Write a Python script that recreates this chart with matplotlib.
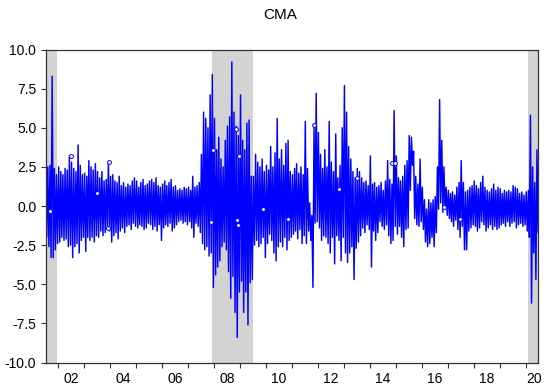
import numpy as np
import pandas as pd
import matplotlib
matplotlib.use('Agg')
import matplotlib.pyplot as plt
import matplotlib.dates as mdates

# monthly high / low of the daily CMA series, Jul 2001 .. Jun 2020
first_month = '2001-07'
month_hi = [
    3.3, 2.5, 2.6, 8.3, 2.4, 2.0,                                   # 2001 Jul-Dec
    2.5, 2.2, 2.0, 2.4, 2.3, 3.2, 2.8, 2.4, 2.2, 3.9, 2.6, 2.0,     # 2002
    2.1, 1.9, 2.9, 2.5, 2.3, 2.7, 2.2, 1.8, 2.2, 1.6, 1.7, 2.8,     # 2003
    1.9, 2.0, 1.6, 1.5, 1.9, 1.3, 1.5, 1.2, 1.4, 1.3, 1.6, 1.8,     # 2004
    1.6, 1.2, 1.5, 1.7, 1.3, 1.4, 1.6, 1.7, 1.5, 1.8, 1.3, 1.2,     # 2005
    1.4, 1.6, 1.3, 1.5, 1.7, 1.2, 1.3, 1.0, 1.1, 1.0, 1.2, 1.1,     # 2006
    1.2, 1.0, 1.9, 1.2, 1.3, 1.5, 3.3, 6.0, 5.6, 5.0, 7.1, 8.4,     # 2007
    5.6, 3.6, 4.4, 3.0, 2.5, 4.2, 5.1, 5.7, 9.2, 6.0, 5.1, 4.5,     # 2008
    7.1, 4.2, 3.6, 5.3, 5.5, 1.9, 1.9, 3.3, 2.8, 2.5, 3.0, 2.2,     # 2009
    2.6, 2.3, 3.8, 2.5, 3.4, 5.6, 3.0, 3.6, 2.6, 4.0, 4.2, 2.2,     # 2010
    2.0, 2.4, 2.7, 2.1, 2.5, 2.0, 5.4, 2.4, 0.2, -0.6, 5.2, 7.2,    # 2011
    4.7, 3.3, 2.4, 3.6, 2.5, 5.4, 2.8, 2.2, 4.6, 1.8, 2.6, 5.0,     # 2012
    7.7, 6.0, 3.8, 3.0, 2.2, 1.8, 2.4, 2.2, 1.8, 1.5, 1.6, 1.3,     # 2013
    3.2, 1.4, 1.5, 1.2, 1.3, 1.5, 1.0, 1.6, 2.9, 1.7, 1.4, 6.1,     # 2014
    3.2, 1.8, 1.6, 1.9, 2.6, 2.9, 4.5, 4.4, 3.5, 1.9, 1.4, 3.0,     # 2015
    1.2, 0.4, -0.2, 0.4, 0.2, 0.4, 0.6, 2.5, 6.8, 4.2, 2.5, 1.2,    # 2016
    1.0, 0.8, 0.9, 0.7, 1.2, 1.5, 2.9, 1.5, 0.9, 1.0, 1.2, 1.3,     # 2017
    1.6, 1.3, 1.1, 1.5, 1.9, 1.2, 1.0, 0.9, 1.1, 1.4, 1.0, 1.2,     # 2018
    1.1, 0.8, 1.0, 0.9, 1.0, 0.9, 1.3, 1.2, 1.1, 0.8, 0.9, 0.7,     # 2019
    0.9, 1.0, 5.8, 2.5, 1.5, 3.6,                                   # 2020 Jan-Jun
]
month_lo = [
    -2.0, -2.6, -3.3, -3.3, -2.8, -2.4,
    -2.3, -2.0, -2.2, -2.1, -2.6, -2.5, -3.3, -2.6, -2.4, -3.0, -2.2, -2.0,
    -2.9, -2.0, -2.2, -2.0, -2.3, -1.9, -2.0, -1.6, -1.9, -1.7, -1.5, -1.6,
    -2.3, -1.9, -1.7, -2.1, -1.6, -1.4, -1.7, -1.3, -1.2, -1.5, -1.1, -1.3,
    -1.4, -1.2, -1.3, -1.5, -1.4, -1.1, -1.2, -1.5, -1.3, -1.6, -1.2, -2.2,
    -1.4, -1.2, -1.3, -1.1, -1.6, -1.4, -1.2, -1.0, -0.9, -1.1, -1.0, -1.2,
    -1.0, -1.4, -2.0, -1.1, -1.3, -1.7, -2.4, -2.8, -2.6, -3.2, -3.0, -5.2,
    -4.4, -3.9, -3.5, -2.6, -2.3, -2.8, -4.2, -5.9, -4.5, -6.8, -8.4, -5.5,
    -4.8, -6.8, -5.5, -7.6, -4.9, -4.7, -2.5, -2.2, -2.6, -2.4, -2.0, -3.3,
    -2.4, -1.8, -2.2, -3.0, -3.5, -2.6, -2.3, -2.6, -2.0, -2.8, -2.2, -2.0,
    -1.8, -1.6, -2.1, -1.5, -2.4, -1.9, -2.4, -1.6, -2.2, -5.2, -1.1, -1.0,
    -1.4, -2.2, -1.9, -2.0, -2.4, -3.0, -2.0, -3.7, -1.9, -2.2, -3.5, -2.0,
    -3.0, -3.6, -3.0, -2.6, -4.7, -2.7, -2.3, -1.9, -1.4, -1.7, -1.2, -1.5,
    -3.9, -1.6, -2.2, -1.7, -1.0, -1.3, -1.5, -1.2, -1.9, -2.4, -2.2, -1.3,
    -1.8, -1.3, -2.0, -2.6, -1.5, -1.4, 1.0, 2.6, -0.8, -1.2, -1.3, -1.0,
    -1.5, -2.3, -2.6, -2.4, -2.0, -2.6, -1.7, -0.2, 0.2, -0.4, -0.2, -0.6,
    -0.8, -1.0, -1.3, -0.9, -1.5, -2.0, -1.3, -2.8, -2.8, -1.6, -1.4, -1.2,
    -1.3, -1.6, -1.4, -1.0, -1.2, -1.6, -1.4, -1.2, -1.5, -1.3, -1.5, -1.4,
    -1.2, -1.1, -1.3, -1.0, -1.3, -1.1, -1.0, -1.4, -1.2, -1.1, -1.3, -1.2,
    -1.6, -2.0, -6.2, -3.0, -4.7, -1.7,
]

# isolated observations EViews draws as small circles
circle_dates = ['2001-09-10', '2002-07-01', '2003-06-27', '2003-12-08', '2003-12-22',
                '2007-11-20', '2007-12-24', '2008-11-06', '2008-11-16', '2008-12-08',
                '2008-12-23', '2009-11-14', '2010-11-14', '2011-11-13', '2012-10-27',
                '2013-06-28', '2014-11-13', '2014-12-17', '2016-11-09', '2017-06-21']
circle_vals = [-0.3, 3.2, 0.8, -1.4, 2.8,
               -1.0, 3.6, 4.95, -0.9, -1.2,
               3.2, -0.2, -0.8, 5.2, 1.1,
               1.8, 2.77, 2.77, -0.05, -0.8]

# NBER recessions (shaded)
recessions = [('2001-03-01', '2001-12-10'), ('2007-12-01', '2009-07-01'), ('2020-02-01', '2020-07-01')]

label_years = list(range(2002, 2021, 2))

x_start = pd.Timestamp('2001-07-10')
x_end = pd.Timestamp('2020-06-23')

# build the line: one high and one low per month
months = pd.period_range(first_month, periods=len(month_hi), freq='M')
starts = months.to_timestamp(how='start')
ndays = np.asarray(months.days_in_month, dtype=float)
t_hi = starts + pd.to_timedelta(ndays * 0.25, unit='D')
t_lo = starts + pd.to_timedelta(ndays * 0.75, unit='D')
t = np.empty(2 * len(months), dtype='datetime64[ns]')
v = np.empty(2 * len(months))
t[0::2] = t_hi.values
t[1::2] = t_lo.values
v[0::2] = month_hi
v[1::2] = month_lo

plt.rcParams['font.family'] = ['Liberation Sans', 'DejaVu Sans']

fig = plt.figure(figsize=(5.5, 3.91), dpi=100)
ax = fig.add_axes([45.7 / 550, (391 - 362.5) / 391, (538 - 45.7) / 550, 313 / 391])

for a, b in recessions:
    ax.axvspan(pd.Timestamp(a), pd.Timestamp(b), color='#d3d3d3', lw=0, zorder=0)

ax.plot(t, v, color='#0000ff', lw=1.05, zorder=2)
ax.plot(pd.to_datetime(circle_dates), circle_vals, ls='none', marker='o', ms=2.8,
        mfc='white', mec='#0000ff', mew=0.7, zorder=3)

ax.set_xlim(x_start, x_end)
ax.set_ylim(-10, 10)
ax.set_yticks(np.arange(-10, 10.01, 2.5))
ax.yaxis.set_major_formatter(matplotlib.ticker.FormatStrFormatter('%.1f'))

ax.xaxis.set_major_locator(mdates.YearLocator())
ax.xaxis.set_major_formatter(matplotlib.ticker.NullFormatter())
pos = [min(pd.Timestamp(f'{y}-07-01'), x_end - pd.Timedelta(days=50)) for y in label_years]
ax.set_xticks(pos, minor=True)
ax.set_xticklabels([f'{y % 100:02d}' for y in label_years], minor=True)

ax.tick_params(axis='both', which='major', direction='out', length=3.8, width=0.8,
               color='#333333', labelsize=10, top=False, right=False)
ax.tick_params(axis='x', which='minor', length=0, labelsize=10, pad=7)
ax.tick_params(axis='y', pad=3)
for s in ax.spines.values():
    s.set_color('#333333')
    s.set_linewidth(0.9)

fig.text(280 / 550, 1 - 15 / 391, 'CMA', ha='center', va='center', fontsize=11)

fig.savefig('out.png', dpi=100)
